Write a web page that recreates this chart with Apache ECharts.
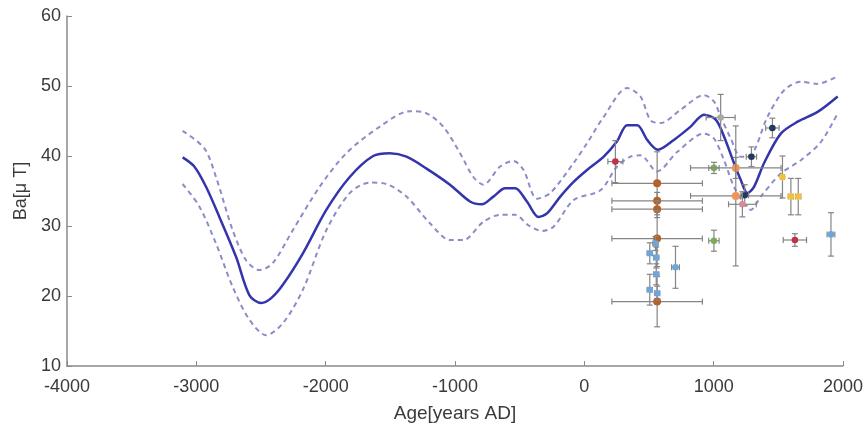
<!DOCTYPE html>
<html>
<head>
<meta charset="utf-8">
<script src="https://cdn.jsdelivr.net/npm/echarts@6/dist/echarts.min.js"></script>
<style>html,body{margin:0;padding:0;background:#fff;}#c{width:867px;height:428px;}</style>
</head>
<body>
<div id="c"></div>
<script>
// x-axis ticks
const xTicks = [-4000, -3000, -2000, -1000, 0, 1000, 2000];
const yTicks = [10, 20, 30, 40, 50, 60];

// Mean curve [age, Ba]
const meanCurve = [
  [-3106,39.8],[-3016,38.5],[-2925,35.6],[-2822,31.3],[-2693,25.6],[-2589,20.1],[-2498,19.0],
  [-2421,19.7],[-2331,21.6],[-2176,26.1],[-1995,32.3],[-1814,37.0],[-1633,40.0],[-1504,40.4],
  [-1375,39.9],[-1220,38.2],[-1039,35.9],[-884,33.5],[-793,33.1],[-703,34.2],[-612,35.4],
  [-535,35.4],[-444,33.5],[-354,31.3],[-289,31.8],[-186,34.2],[-83,36.3],[21,38.0],[150,39.9],
  [253,42.1],[331,44.4],[409,44.4],[486,42.3],[568,40.9],[692,42.3],[822,44.2],[925,45.9],
  [1016,45.2],[1080,42.8],[1157,39.0],[1209,36.6],[1261,34.7],[1312,35.6],[1390,39.0],
  [1519,43.2],[1649,44.9],[1804,46.3],[1959,48.5]
];
// Upper confidence bound
const upperCurve = [
  [-3106,43.6],[-2938,41.1],[-2848,37.0],[-2719,29.4],[-2615,25.1],[-2512,23.7],[-2409,24.7],
  [-2254,29.4],[-2047,35.6],[-1840,40.4],[-1581,44.2],[-1349,46.4],[-1220,46.1],[-1091,44.2],
  [-961,40.4],[-858,37.0],[-781,35.9],[-651,38.5],[-548,39.3],[-470,38.0],[-367,33.9],
  [-264,34.7],[-83,39.0],[20,41.8],[150,45.6],[331,49.7],[434,48.5],[512,45.1],[589,44.7],
  [744,46.6],[925,48.7],[1002,47.8],[1054,45.6],[1132,42.5],[1209,39.9],[1287,40.1],
  [1416,45.6],[1545,49.4],[1674,50.6],[1800,50.3],[1960,51.4]
];
// Lower confidence bound
const lowerCurve = [
  [-3106,36.0],[-2977,32.8],[-2848,27.5],[-2719,21.3],[-2589,16.6],[-2460,14.4],[-2331,16.1],
  [-2176,20.9],[-1995,29.4],[-1814,34.7],[-1659,36.2],[-1530,36.0],[-1375,34.2],[-1194,30.4],
  [-1039,28.0],[-936,28.0],[-781,30.6],[-651,31.6],[-535,31.6],[-432,30.1],[-328,29.3],
  [-238,29.9],[-83,33.7],[124,35.1],[253,38.5],[357,39.9],[434,40.1],[563,37.8],[719,40.6],
  [925,43.2],[1002,42.5],[1080,39.4],[1157,35.6],[1235,33.2],[1287,32.3],[1364,34.2],
  [1519,37.5],[1674,39.4],[1829,42.0],[1959,46.1]
];

// Archaeomagnetic data points
const ptAge    = [240, 563, 563, 563, 563, 563, 550, 506, 556, 556, 506, 563, 705, 1907, 1002, 1002, 1171, 1171, 1054, 1454, 1292, 1240, 1222, 1532, 1597, 1654, 1628];
const ptBa     = [39.2,36.1,33.6,32.4,28.2,19.2,27.5,26.1,25.5,23.1,20.9,20.4,24.1,28.8,38.3,27.9,38.3,34.3,45.5,44.0,39.9,34.4,33.1,37.0,34.2,34.2,28.0];
const ptAgeErr = [58, 350, 350, 350, 350, 350, 20, 20, 20, 20, 20, 20, 30, 30, 40, 40, 350, 350, 112, 52, 40, 30, 107, 15, 20, 20, 90];
const ptBaErr  = [3.0, 4.5, 1.2, 1.2, 4.0, 3.6, 1.0, 1.5, 1.5, 1.5, 2.2, 1.0, 3.0, 3.1, 0.8, 1.5, 1.5, 10.0, 3.3, 1.4, 1.4, 1.5, 1.8, 3.0, 2.6, 2.6, 0.9];
const ptGroup  = ['red','brown','brown','brown','brown','brown','blue','blue','blue','blue','blue','blue','blue','blue','green','green','orange','orange','gray','navy','navy','navy','rose','yellow','yellow','yellow','red'];

const groupColor = {
  red:'#c0304a', brown:'#b5612a', blue:'#6fa6d8', green:'#79ad5a', orange:'#f0955a',
  gray:'#a8a8a8', navy:'#22395e', rose:'#d88a96', yellow:'#f3c03c'
};

const pts = ptAge.map((a, i) => [a, ptBa[i], ptAgeErr[i], ptBaErr[i], i]);

const chart = echarts.init(document.getElementById('c'));
const axisCol = '#8a8a8a';
const labelCol = '#3a3a3a';
const fontFam = '"Liberation Sans", Arial, sans-serif';

chart.setOption({
  animation: false,
  grid: { left: 67, right: 24, top: 16, bottom: 62, containLabel: false },
  xAxis: {
    type: 'value', min: xTicks[0], max: xTicks[xTicks.length - 1], interval: 1000,
    name: 'Age[years AD]', nameLocation: 'middle', nameGap: 38,
    nameTextStyle: { color: labelCol, fontSize: 19, fontFamily: fontFam },
    axisLine: { show: true, onZero: false, lineStyle: { color: axisCol, width: 1.5 } },
    axisTick: { show: true, inside: true, length: 5, lineStyle: { color: axisCol } },
    axisLabel: { color: labelCol, fontSize: 18, fontFamily: fontFam, margin: 12,
      formatter: v => String(v) },
    splitLine: { show: false }
  },
  yAxis: {
    type: 'value', min: yTicks[0], max: yTicks[yTicks.length - 1], interval: 10,
    name: 'Ba[μ T]', nameLocation: 'middle', nameGap: 35,
    nameTextStyle: { color: labelCol, fontSize: 18, fontFamily: fontFam },
    axisLine: { show: true, onZero: false, lineStyle: { color: axisCol, width: 1.5 } },
    axisTick: { show: true, inside: true, length: 5, lineStyle: { color: axisCol } },
    axisLabel: { color: labelCol, fontSize: 18, fontFamily: fontFam, margin: 6,
      formatter: v => String(v) },
    splitLine: { show: false }
  },
  series: [
    { type: 'line', data: upperCurve, smooth: 0.3, symbol: 'none',
      lineStyle: { color: '#8c8cc8', width: 2, type: [5, 4] }, z: 2 },
    { type: 'line', data: lowerCurve, smooth: 0.3, symbol: 'none',
      lineStyle: { color: '#8c8cc8', width: 2, type: [5, 4] }, z: 2 },
    { type: 'line', data: meanCurve, smooth: 0.3, symbol: 'none',
      lineStyle: { color: '#3434ac', width: 2.5 }, z: 3 },
    {
      type: 'custom', z: 4, data: pts,
      renderItem: function (params, api) {
        const x = api.value(0), y = api.value(1), ex = api.value(2), ey = api.value(3);
        const idx = api.value(4);
        const c = api.coord([x, y]);
        const l = api.coord([x - ex, y]);
        const r = api.coord([x + ex, y]);
        const t = api.coord([x, y + ey]);
        const b = api.coord([x, y - ey]);
        const cap = 3;
        const ls = { stroke: '#858585', lineWidth: 1.2 };
        const col = groupColor[ptGroup[idx]];
        const big = ptGroup[idx] === 'brown' || ptGroup[idx] === 'orange';
        return {
          type: 'group',
          children: [
            { type: 'line', shape: { x1: l[0], y1: l[1], x2: r[0], y2: r[1] }, style: ls },
            { type: 'line', shape: { x1: l[0], y1: l[1] - cap, x2: l[0], y2: l[1] + cap }, style: ls },
            { type: 'line', shape: { x1: r[0], y1: r[1] - cap, x2: r[0], y2: r[1] + cap }, style: ls },
            { type: 'line', shape: { x1: t[0], y1: t[1], x2: b[0], y2: b[1] }, style: ls },
            { type: 'line', shape: { x1: t[0] - cap, y1: t[1], x2: t[0] + cap, y2: t[1] }, style: ls },
            { type: 'line', shape: { x1: b[0] - cap, y1: b[1], x2: b[0] + cap, y2: b[1] }, style: ls },
            { type: 'circle', shape: { cx: c[0], cy: c[1], r: big ? 4 : 3.3 }, style: { fill: col } }
          ]
        };
      }
    }
  ]
});
</script>
</body>
</html>
